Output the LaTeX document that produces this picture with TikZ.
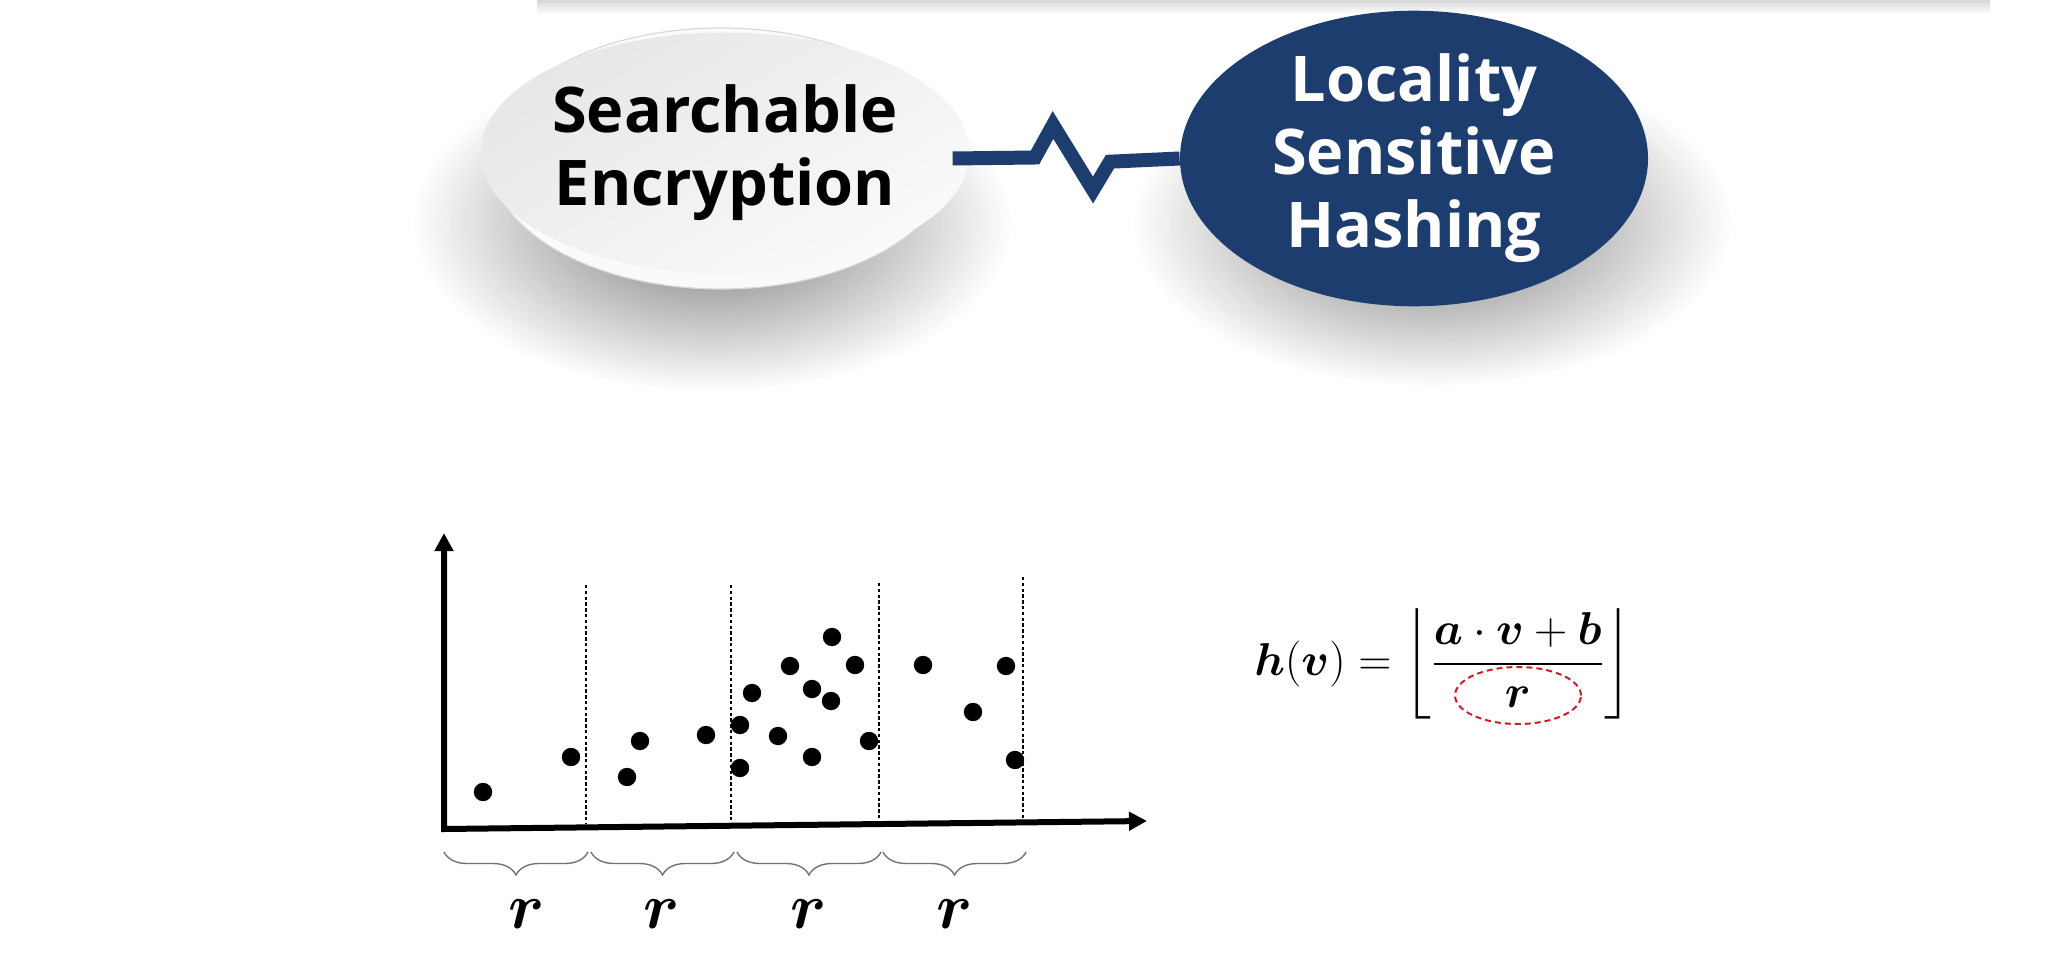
\documentclass[tikz,border=0pt]{standalone}
\usepackage{amsmath}
\usepackage{bm}
\usepackage{fontspec}
\newfontfamily\headfont{Open Sans}
\usetikzlibrary{arrows.meta,decorations.pathreplacing,fadings,shapes.geometric,positioning}
\definecolor{lshblue}{HTML}{1D3D6E}
\definecolor{dashred}{HTML}{C8202A}
\tikzfading[name=shadowfade, inner color=transparent!0, outer color=transparent!100]
\tikzset{
  headtext/.style={font=\headfont\bfseries\fontsize{31.5}{36.5}\selectfont, align=center},
  softshadow/.style={fill=black, opacity=.55, path fading=shadowfade},
  axisline/.style={line width=3pt, {Triangle[length=9pt,width=9pt]}-{Triangle[length=9pt,width=9pt]}},
  binline/.style={dash pattern=on 1.7pt off 1.2pt, line width=0.6pt},
  binbrace/.style={decorate, decoration={brace, mirror, amplitude=11.5pt}, draw=black!55, line width=0.7pt},
  rlabel/.style={font=\fontsize{24.88}{28}\selectfont, anchor=base, inner sep=0pt},
}
\begin{document}
\begin{tikzpicture}[x=0.5pt,y=-0.5pt]
  \useasboundingbox (0,0) rectangle (2055,962);
  \fill[white] (0,0) rectangle (2055,962);
  % bar at the top edge
  \fill[gray!30] (537,-4) rectangle (1990,3);
  \fill[black, opacity=.12, path fading=south] (537,3) rectangle (1990,14);
  % shadows
  \fill[softshadow] (712,222) ellipse [x radius=300, y radius=170];
  \fill[softshadow] (1432,222) ellipse [x radius=300, y radius=165];
  % the two ellipses
  \node[ellipse, minimum width=231pt, minimum height=130.5pt, inner sep=0pt,
    fill=gray!4, draw=gray!30, line width=.6pt] (se) at (721,158.5) {};
  \node[ellipse, minimum width=223.5pt, minimum height=120.5pt, inner sep=0pt,
    top color=gray!19, bottom color=gray!4, shading angle=30, headtext] (setext) at (725,153) {Searchable\\Encryption};
  \node[ellipse, minimum width=234pt, minimum height=133.5pt, inner sep=0pt,
    fill=lshblue, text=white, headtext] (lsh) at (1414,158.5) {Locality\\Sensitive\\Hashing};
  \draw[lshblue, line width=7pt] (se.east) -- (1035,157.5) -- (1053,125) -- (1093,190) -- (1110,161.7) -- (lsh.west);
  % plot
  \coordinate (org) at (444,829);
  \coordinate (ytop) at (444,533);
  \coordinate (xend) at (1147,821);
  \draw[axisline] (ytop) -- (org) -- (xend);
  \foreach \bx/\bt/\bb in {586/585/824, 731/585/822, 879/583/820, 1023/577/818}
    \draw[binline] (\bx,\bt) -- (\bx,\bb);
  \foreach \px/\py in {483/792, 571/757, 627/777, 640/741, 706/735, 740/725,
      740/768, 752/693, 778/736, 790/666, 812/689, 812/757, 832/637, 831/701,
      855/665, 869/741, 923/665, 973/712, 1006/666, 1015/760}
    \fill (\px,\py) circle (4.6pt);
  \foreach \bl/\br/\rn/\rx in {444/588/1/527, 591/734/2/662, 737/881/3/809, 883/1026/4/955}{
    \draw[binbrace] (\bl,852) -- (\br,852);
    \node[rlabel] (r\rn) at (\rx,928) {\scalebox{1.3}{$\bm{r}$}};
  }
  % hash function
  \node[anchor=west, inner sep=0pt, font=\fontsize{20.74}{24}\selectfont] (hfun) at (1254,664)
    {\scalebox{1.11}{$\displaystyle \bm{h}(\bm{v}) = \left\lfloor\frac{\bm{a}\cdot\bm{v}+\bm{b}}{\bm{r}}\right\rfloor$}};
  \node[ellipse, draw=dashred, dash pattern=on 3pt off 2pt, line width=1pt,
    minimum width=63pt, minimum height=28.5pt, inner sep=0pt] (rmark) at (1518,695.5) {};
\end{tikzpicture}
\end{document}
